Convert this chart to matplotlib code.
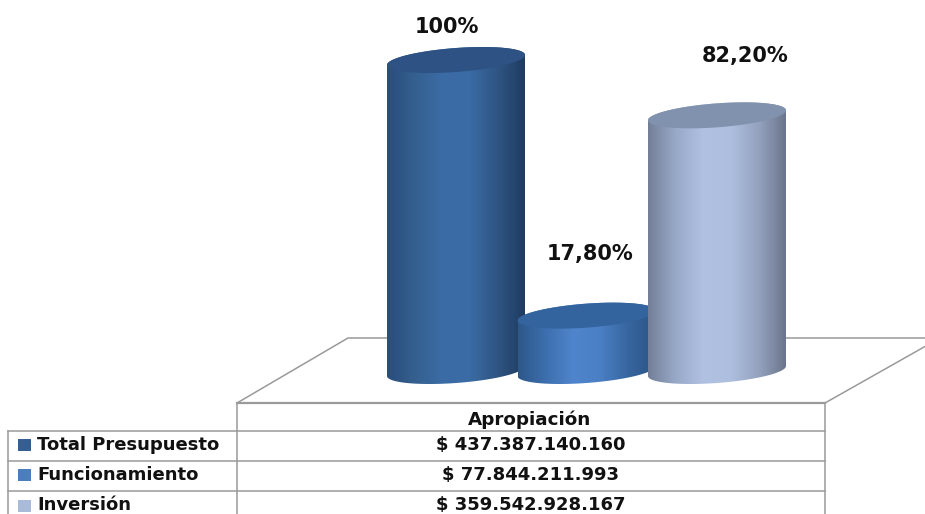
import numpy as np
import matplotlib
matplotlib.use("Agg")
import matplotlib.pyplot as plt
from matplotlib.colors import LinearSegmentedColormap
from matplotlib.patches import Polygon, Rectangle

categories = ["Total Presupuesto", "Funcionamiento", "Inversión"]
percent_values = [100.0, 17.8, 82.2]
percent_labels = ["100%", "17,80%", "82,20%"]
amount_labels = ["$ 437.387.140.160", "$ 77.844.211.993", "$ 359.542.928.167"]
column_header = "Apropiación"

side_colors = [
    ["#2a4d7c", "#34608f", "#3c6ca6", "#3b6ba4", "#2f5583", "#1f3c60"],
    ["#2c5789", "#3d6fae", "#4f85cc", "#4a7fc4", "#37669f", "#2a5485"],
    ["#737f97", "#98a9c8", "#b0c1e2", "#adbedf", "#95a3bf", "#6b768c"],
]
top_colors = ["#2d5283", "#34649e", "#8092ae"]
legend_colors = ["#355f92", "#4a7ebd", "#a9bbd9"]
label_offsets_px = [(-9, 33), (4, 62), (28, 59)]

W, H = 925, 514
BASE_PX, PX_PER_PCT = 371.0, 3.11
X0_PX, PX_PER_CAT = 456.0, 130.5
HALF_W = 69 / PX_PER_CAT
HALF_H = 12 / PX_PER_PCT
SHEAR = 5 / PX_PER_PCT

fig = plt.figure(figsize=(W / 100, H / 100), dpi=100, facecolor="white")

# Overlay in pixels for the floor and the data table
deco = fig.add_axes([0, 0, 1, 1])
deco.set_xlim(0, W)
deco.set_ylim(H, 0)
deco.axis("off")
GREY = "#9a9a9a"
deco.add_patch(Polygon([(237, 403), (348, 338), (940, 338), (825, 403)],
                       closed=False, fill=False, ec=GREY, lw=1.1, clip_on=True))
deco.plot([237, 825], [403, 403], color=GREY, lw=1.6)
TX0, TX1, TX2 = 8, 237, 825
ROWS = [431, 461, 491, 514]
deco.plot([TX1, TX1], [403, ROWS[0]], color=GREY, lw=1.1)
deco.plot([TX2, TX2], [403, 514], color=GREY, lw=1.1)
for yy in ROWS[:3]:
    deco.plot([TX0, TX2], [yy, yy], color=GREY, lw=1.1)
deco.plot([TX0, TX0], [ROWS[0], 514], color=GREY, lw=1.1)
deco.plot([TX1, TX1], [ROWS[0], 514], color=GREY, lw=1.1)

FONT = dict(family="DejaVu Sans", fontweight="bold", color="#111111")
deco.text((TX1 + TX2) / 2 - 1, 420, column_header, ha="center", va="center", fontsize=13.2, **FONT)
for i, (cat, amt) in enumerate(zip(categories, amount_labels)):
    yc = (ROWS[i] + ROWS[i + 1]) / 2 - 1 + (0 if i < 2 else 4)
    deco.add_patch(Rectangle((18, yc - 6), 13, 12, fc=legend_colors[i], ec="none"))
    deco.text(37, yc, cat, ha="left", va="center", fontsize=13, **FONT)
    deco.text(531, yc, amt, ha="center", va="center", fontsize=13, **FONT)

# Value axes: x is the category position, y is the percentage
ax = fig.add_axes([0, 0, 1, 1], facecolor="none")
ax.set_xlim((0 - X0_PX) / PX_PER_CAT, (W - X0_PX) / PX_PER_CAT)
ax.set_ylim((BASE_PX - H) / PX_PER_PCT, BASE_PX / PX_PER_PCT)
ax.axis("off")

t = np.linspace(0, 2 * np.pi, 200)


def ellipse(cx, cy):
    return np.column_stack([cx + HALF_W * np.cos(t),
                            cy + HALF_H * np.sin(t) + SHEAR * np.cos(t)])


for i, value in enumerate(percent_values):
    z = 2 + i * 2
    upper = ellipse(i, value)
    # Outline: lower half of the base ellipse, then up and across the top
    s = np.linspace(np.pi, 2 * np.pi, 100)
    bottom = np.column_stack([i + HALF_W * np.cos(s),
                              HALF_H * np.sin(s) + SHEAR * np.cos(s)])
    s2 = np.linspace(0, np.pi, 100)
    top = np.column_stack([i + HALF_W * np.cos(s2),
                           value + HALF_H * np.sin(s2) + SHEAR * np.cos(s2)])
    outline = Polygon(np.vstack([bottom, top]), closed=True, transform=ax.transData, fc="none", ec="none")
    ax.add_patch(outline)
    cmap = LinearSegmentedColormap.from_list(f"c{i}", side_colors[i])
    im = ax.imshow(np.linspace(0, 1, 256)[None, :], cmap=cmap, aspect="auto",
                   extent=[i - HALF_W, i + HALF_W, -HALF_H * 2, value + HALF_H * 2],
                   zorder=z, interpolation="bilinear")
    im.set_clip_path(outline)
    ax.add_patch(Polygon(upper, closed=True, fc=top_colors[i], ec="none", zorder=z + 0.5))
    dx, dy = label_offsets_px[i]
    ax.annotate(percent_labels[i], (i, value), xytext=(dx * 0.72, dy * 0.72),
                textcoords="offset points", ha="center", va="center",
                fontsize=15, family="DejaVu Sans", fontweight="bold", color="#111111", zorder=10)

ax.set_xlim((0 - X0_PX) / PX_PER_CAT, (W - X0_PX) / PX_PER_CAT)
ax.set_ylim((BASE_PX - H) / PX_PER_PCT, BASE_PX / PX_PER_PCT)

fig.savefig("out.png", dpi=100)
